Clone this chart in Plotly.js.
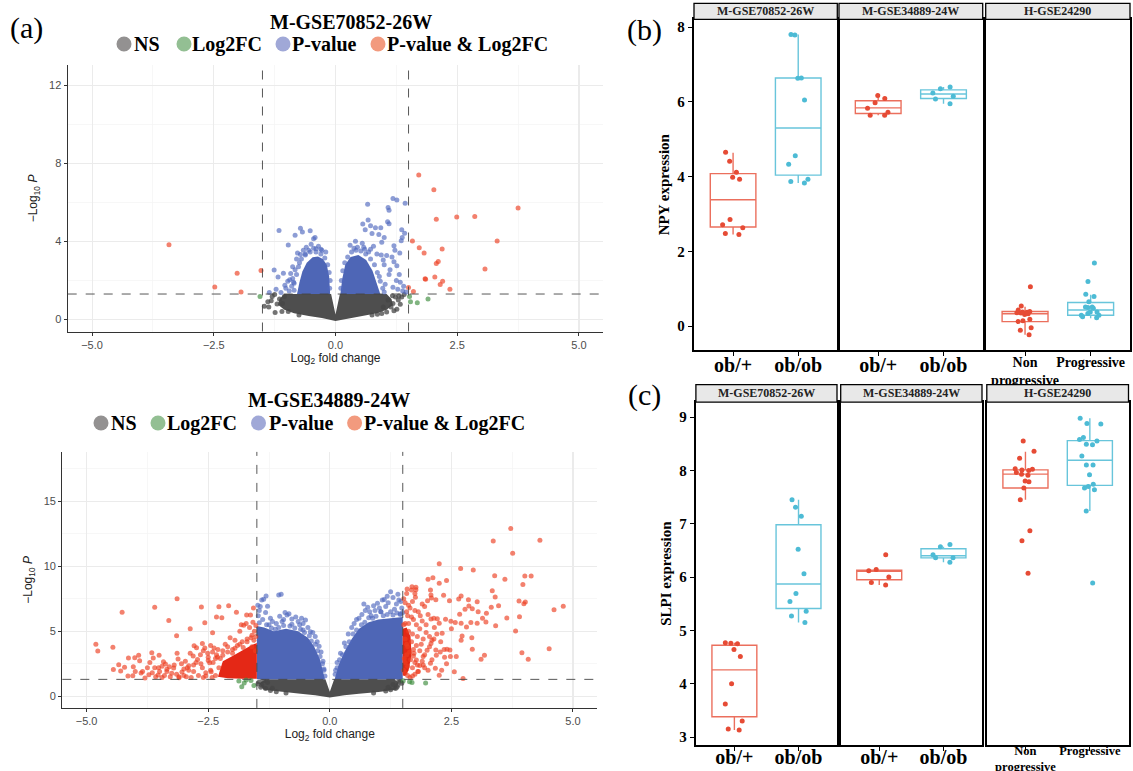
<!DOCTYPE html>
<html><head><meta charset="utf-8">
<script src="https://cdn.plot.ly/plotly-3.0.1.min.js"></script>
<style>html,body{margin:0;padding:0;background:#fff}#chart{width:1133px;height:771px}</style>
</head><body><div id="chart"></div>
<script>
// ================= DATA =================
// ---- (a) top volcano: M-GSE70852-26W ----
const a1_nsCoreX = [-1.05,-0.09,0.0,0.09,1.05,1.15,1.18,1.05,0.85,0.55,0.28,0.0,-0.28,-0.55,-0.85,-1.05,-1.18,-1.15];
const a1_nsCoreY = [1.30,1.30,0.25,1.30,1.30,1.05,0.75,0.50,0.32,0.17,0.07,-0.08,0.07,0.17,0.32,0.50,0.75,1.05];
const a1_nsX = [-1.46,-1.39,-1.25,-1.20,-1.09,-1.24,-1.10,-1.05,-1.30,-0.97,-1.37,-1.15,-1.32,1.17,1.29,1.33,1.26,1.05,1.36,1.23,1.14,0.95,1.41,1.08,1.18,0.86,0.98,1.30,1.20,-0.75,0.75];
const a1_nsY = [0.68,0.90,1.28,0.79,0.82,0.35,0.40,1.17,1.17,0.40,0.64,1.05,0.95,1.21,0.99,0.78,0.52,0.38,1.15,1.15,0.64,0.30,1.28,0.99,0.81,0.26,0.64,1.20,0.45,0.22,0.22];
const a1_fcX = [-1.55,1.52,1.54,1.68,1.90];
const a1_fcY = [1.18,1.17,0.90,0.85,1.04];
const a1_pCoreLX = [-0.11,-0.13,-0.18,-0.26,-0.36,-0.47,-0.59,-0.68,-0.74,-0.79];
const a1_pCoreLY = [1.30,2.20,2.80,3.10,3.22,3.18,2.90,2.45,1.90,1.30];
const a1_pCoreRX = [0.10,0.14,0.20,0.31,0.47,0.63,0.76,0.85,0.92];
const a1_pCoreRY = [1.30,2.10,2.80,3.20,3.30,3.05,2.50,1.85,1.30];
const a1_pX = [-1.16,-0.97,-0.83,-0.72,-0.68,-0.52,-0.45,-0.42,-0.40,-1.26,-1.07,-1.18,-0.94,-0.85,-1.36,-1.12,-0.72,-0.62,-0.55,-0.80,-0.88,-0.92,-0.98,-1.02,-0.95,-0.88,-0.30,-0.20,-0.35,-0.50,-0.60,-1.04,-1.22,-0.78,
  1.18,1.26,1.43,0.66,1.08,1.10,0.67,1.07,1.10,0.56,0.72,0.82,0.61,0.93,1.36,1.42,0.75,0.89,1.37,1.35,0.41,0.55,0.60,0.72,0.85,0.94,1.05,1.20,1.22,1.32,1.16,1.20,1.31,1.10,1.33,1.40,0.30,0.45,1.00,1.12,1.25,1.38,1.28,1.45,1.18,0.98,0.78,0.95,1.00,1.26,
  -0.85,-0.86,-0.80,-0.76,-0.70,-0.62,-0.52,-0.40,-0.30,-0.22,-0.16,-0.13,-0.11,-0.12,-0.66,-0.45,-0.28,-0.90,-0.83,-0.74,
  0.11,0.12,0.15,0.19,0.25,0.33,0.42,0.52,0.62,0.72,0.80,0.86,0.92,0.97,1.00,0.58,0.38,0.68,0.90,1.02];
const a1_pY = [4.56,3.81,4.32,4.67,4.48,4.54,4.13,4.20,3.62,2.53,2.36,2.18,2.03,1.85,1.38,1.38,3.33,3.30,3.55,3.10,2.70,2.35,1.95,1.60,1.45,2.10,3.60,3.45,3.75,3.85,3.70,1.75,1.55,3.40,
  6.20,6.12,5.95,5.90,5.74,5.60,5.10,5.00,4.90,4.89,4.80,4.70,4.60,4.70,4.60,4.42,4.40,4.35,4.20,4.03,4.00,3.90,3.60,3.60,3.35,3.30,3.28,3.78,3.55,3.40,3.20,2.95,2.30,2.30,1.90,1.70,3.80,3.70,2.80,2.55,2.00,1.45,1.55,1.40,1.65,3.05,3.75,3.95,4.20,2.75,
  1.50,1.90,2.30,2.70,3.10,3.35,3.45,3.45,3.35,3.15,2.80,2.40,2.00,1.60,3.55,3.65,3.55,1.70,2.55,2.90,
  1.60,2.00,2.50,2.90,3.20,3.45,3.55,3.50,3.35,3.10,2.80,2.40,1.95,1.60,1.40,3.70,3.65,3.45,2.20,1.80];
const a1_bothX = [-3.42,-2.48,-2.02,-1.94,-1.53,1.71,2.02,2.07,2.49,2.86,3.75,3.32,3.07,1.58,1.72,1.82,2.19,2.11,2.07,1.84,1.85,2.04,2.20,2.15,2.35,1.50,1.60];
const a1_bothY = [3.83,1.66,2.37,1.40,2.51,7.40,6.65,5.14,5.25,5.28,5.71,4.02,2.58,4.02,3.67,3.40,3.61,2.97,2.87,2.08,2.06,2.17,1.96,1.79,1.55,1.64,1.43];

// ---- (a) bottom volcano: M-GSE34889-24W ----
const a2_nsCoreX = [-1.32,-0.09,0.0,0.09,1.32,1.42,1.36,1.0,0.6,0.3,0.0,-0.3,-0.6,-1.0,-1.36,-1.45];
const a2_nsCoreY = [1.30,1.30,0.35,1.30,1.30,1.05,0.50,0.33,0.20,0.08,-0.10,0.08,0.20,0.33,0.50,1.00];
const a2_nsX = [-1.45,-1.40,-1.32,-1.22,-1.48,-1.36,-1.10,-1.42,-1.28,1.45,1.40,1.48,1.35,1.25,1.42,1.15,1.30,1.38,-0.90,0.90,-1.18,1.20];
const a2_nsY = [1.10,0.85,0.60,0.45,0.95,1.20,0.35,0.70,1.05,1.15,0.85,1.00,0.60,0.50,1.25,0.40,0.90,0.70,0.25,0.25,0.62,0.70];
const a2_fcX = [-1.87,-1.81,-1.72,-1.76,-1.56,-1.62,1.51,1.64,1.69,1.97];
const a2_fcY = [1.18,0.74,1.25,1.02,0.82,1.22,1.20,1.12,1.05,1.02];
const a2_pCoreLX = [-0.10,-0.20,-0.32,-0.45,-0.65,-0.90,-1.15,-1.35,-1.50,-1.50];
const a2_pCoreLY = [1.30,2.80,3.80,4.50,5.00,5.20,5.00,5.30,5.40,1.30];
const a2_pCoreRX = [0.10,0.18,0.30,0.45,0.60,0.80,1.00,1.20,1.40,1.50,1.50];
const a2_pCoreRY = [1.30,2.40,3.40,4.40,5.20,5.70,5.90,6.00,6.10,6.10,1.30];
const a2_pX = [-1.36,-1.31,-1.40,-1.05,-1.00,-1.43,-1.28,-0.88,-0.84,-0.50,-0.58,-0.95,-1.10,-1.22,-0.70,-0.40,-0.30,-0.22,-1.47,-1.45,-1.32,-1.18,-0.78,-0.65,-0.45,-0.35,-0.26,-0.18,-0.14,-0.12,-1.38,-1.03,-0.92,-0.62,-1.25,-0.55,-1.48,-0.98,
  1.25,1.08,1.12,1.20,1.42,1.37,0.90,0.70,0.73,0.93,0.66,0.55,0.45,0.38,0.30,0.22,0.15,0.12,1.30,1.46,1.48,1.33,1.15,1.02,0.82,0.60,0.50,1.45,1.25,1.05,0.85,0.78,0.98,1.40,1.18,
  -1.45,-1.30,-1.20,-1.05,-0.95,-0.82,-0.72,-0.60,-0.52,-0.42,-0.38,-0.30,-0.25,-0.20,-0.15,-0.12,-0.10,-1.12,-0.78,-0.55,
  0.11,0.15,0.20,0.26,0.33,0.40,0.48,0.55,0.65,0.72,0.88,0.95,1.10,1.18,1.30,1.38,1.45,1.50,0.80,1.05];
const a2_pY = [7.46,7.72,7.40,7.80,7.85,6.90,6.92,6.25,6.35,5.87,6.00,5.90,5.60,6.00,6.10,4.97,4.60,3.85,6.20,6.60,6.45,5.75,5.95,5.75,5.30,4.90,4.20,3.40,2.70,2.10,5.90,6.15,6.45,5.50,5.50,5.60,7.00,5.75,
  8.05,7.40,7.45,7.20,7.40,7.10,6.97,7.10,6.60,6.60,6.30,5.90,5.30,4.80,4.10,3.30,2.60,2.00,7.60,7.30,6.80,6.70,6.90,6.80,6.50,6.00,5.60,6.30,6.50,6.50,6.20,6.85,7.15,7.85,7.70,
  5.65,5.50,5.25,5.30,5.45,5.40,5.25,5.15,4.90,4.65,4.25,4.00,3.50,3.05,2.50,2.00,1.55,5.15,5.55,5.10,
  1.70,2.20,2.80,3.20,3.80,4.20,4.80,5.10,5.50,5.70,6.00,6.15,6.20,6.30,6.25,6.40,6.35,6.45,6.05,6.50];
const a2_bothCoreLX = [-1.50,-1.50,-1.62,-1.80,-2.00,-2.20,-2.30,-2.10,-1.80];
const a2_bothCoreLY = [1.35,4.10,3.90,3.50,3.10,2.70,1.50,1.38,1.35];
const a2_bothCoreRX = [1.50,1.50,1.58,1.66,1.68,1.62,1.55];
const a2_bothCoreRY = [1.60,5.20,5.30,4.60,3.20,2.00,1.55];
const a2_bothX = [-3.14,-4.27,-3.60,-3.31,-3.15,-2.87,-2.64,-2.57,-2.41,-2.28,-2.08,-2.33,-2.22,-1.92,-1.82,-1.77,-1.71,-1.63,-1.57,-4.81,-4.77,-4.46,-4.34,-4.22,-4.14,-4.04,-4.01,-3.93,-3.91,-3.88,-3.72,-3.66,-3.63,-3.60,-3.53,-3.51,-3.52,-3.42,-3.38,-3.35,-3.30,-3.25,-3.21,-3.14,-3.12,-3.04,-2.97,-2.93,-2.87,-2.81,-2.79,-2.74,-2.72,-2.66,-2.62,-2.57,-2.51,-2.47,-2.44,-2.41,-2.38,-2.31,
  -1.55,-1.60,-1.52,-1.70,-1.65,-1.80,-1.90,-2.00,-2.10,-2.20,-2.35,-2.50,-2.65,-2.80,-2.90,-3.00,-3.10,-3.45,-3.80,-4.05,-4.30,-4.45,-3.70,-3.45,-2.85,-2.55,-2.05,-1.85,-1.95,-2.15,-2.30,-2.45,-2.60,-1.72,-1.58,-1.52,
  -2.35,-2.45,-2.55,-2.62,-2.70,-2.75,-2.80,-2.90,-2.95,-3.00,-3.05,-3.15,-3.20,-3.28,-3.35,-3.40,-3.50,-3.58,-3.65,-2.40,-2.50,-2.33,-2.25,-2.20,-2.10,-2.00,-1.95,-1.85,-1.78,-1.70,-1.62,-1.56,-1.60,-1.53,-2.28,-2.60,-2.42,-3.10,-3.85,-4.15,-4.00,-3.75,
  3.72,3.36,4.32,3.76,2.25,2.69,2.95,2.02,2.12,2.40,2.25,3.39,3.60,4.01,4.14,3.97,1.59,1.69,1.77,1.68,1.77,2.07,3.34,2.08,2.09,2.34,1.76,3.40,2.70,2.65,2.85,3.03,2.46,2.18,2.01,3.89,4.02,3.99,4.61,4.80,3.64,3.90,3.41,3.82,4.51,3.95,4.08,3.11,3.18,2.93,2.70,2.72,2.92,2.56,2.74,2.60,2.48,2.41,2.47,
  2.86,2.78,2.67,2.93,3.05,3.14,3.22,3.32,3.47,3.21,3.03,2.90,2.81,2.70,2.58,2.49,2.38,2.21,2.14,2.08,2.25,2.50,2.31,2.14,2.08,2.18,2.27,2.19,2.36,2.07,2.17,2.25,1.81,1.85,1.92,1.78,1.73,1.92,2.00,
  1.52,1.55,1.58,1.60,1.55,1.62,1.55,1.60,1.65,1.70,1.52,1.68,1.72,1.66,1.70,1.75,1.80,1.85,1.90,1.82,1.95,1.98,1.88,1.95,1.60,1.65,2.02,2.10,2.05,2.15,1.78,1.90,1.58,1.75,
  1.55,1.60,1.53,1.64,1.58,1.70,1.52,1.62,1.72,1.58,1.68,1.75,1.78,1.72,1.85,1.80,1.90,1.82,1.70,1.92,1.86,1.62,1.55,1.75,1.98,2.02,1.95,2.05,2.10,2.20,2.28,2.35,2.40,2.30];
const a2_bothY = [7.51,6.46,6.85,5.82,4.66,5.20,6.87,5.66,4.89,6.89,6.97,6.10,6.05,6.46,5.51,5.46,6.26,6.26,6.79,4.00,3.49,3.77,2.43,2.23,2.95,2.28,2.97,3.15,2.74,1.79,1.66,3.35,2.95,2.20,1.64,3.15,2.20,2.66,2.48,2.08,2.28,1.77,2.18,3.31,2.87,1.87,2.69,2.20,3.31,3.10,3.89,3.74,2.82,3.20,4.05,3.72,3.31,2.58,1.89,3.41,3.72,3.02,
  5.00,4.70,4.60,4.40,5.30,4.20,3.90,3.60,3.40,3.15,2.90,2.75,2.50,2.40,2.00,1.60,1.50,1.45,1.40,1.58,1.95,2.05,2.60,2.30,1.45,1.55,4.50,5.00,4.30,4.00,3.60,3.90,3.50,5.60,5.70,5.45,
  1.60,2.00,1.80,2.20,1.60,2.60,1.90,2.35,1.50,2.10,2.50,1.70,2.40,1.50,1.90,1.60,1.90,1.50,1.80,2.60,3.00,3.20,2.90,3.50,3.80,3.30,3.70,4.00,3.75,4.20,4.50,4.30,3.80,3.50,2.20,1.45,1.45,1.42,1.90,1.55,1.90,2.20,
  12.90,11.95,12.00,11.00,10.20,9.82,9.72,9.01,9.11,8.90,8.70,9.28,9.00,9.26,9.26,8.59,8.25,8.43,8.38,8.17,8.20,8.17,8.12,7.79,7.56,7.77,7.61,7.64,7.71,7.48,7.43,7.28,7.35,7.43,7.35,7.33,7.25,7.12,6.66,6.92,6.02,6.12,5.43,5.02,3.66,3.35,2.84,2.84,3.15,3.61,4.30,4.63,4.51,1.89,1.36,3.05,3.05,3.61,3.56,
  6.95,6.69,6.31,6.74,6.51,6.00,6.38,6.84,6.97,5.72,5.61,5.67,5.33,5.61,5.67,5.77,5.92,5.97,6.00,5.95,5.61,5.20,4.84,4.41,4.05,3.56,3.41,3.15,3.00,2.54,2.15,1.61,1.90,2.36,2.41,2.79,3.31,3.05,3.54,
  2.00,2.60,3.20,3.80,4.40,5.00,5.60,6.20,6.80,7.30,7.50,4.20,3.60,2.80,2.20,1.70,4.60,5.20,5.80,6.50,6.90,4.90,4.00,3.20,1.60,1.45,2.00,2.80,4.60,5.30,5.50,7.10,7.90,7.90,
  1.80,2.30,2.90,3.40,4.00,4.80,5.50,5.60,5.90,6.50,6.10,2.60,3.90,3.10,3.50,2.40,2.70,1.90,1.55,4.40,6.20,7.00,7.20,6.60,5.50,6.30,2.20,3.80,4.30,4.80,4.20,3.60,2.50,2.00];

const legendLabels = ['NS','Log2FC','P-value','P-value &amp; Log2FC'];
const fcCut = 1.5, pCut = 1.301;

// ---- (b) NPY expression ----
const mouseGroups = ['ob/+','ob/ob'];
const humanGroups = ['Non<br>progressive','Progressive'];
const stripTitles = ['M-GSE70852-26W','M-GSE34889-24W','H-GSE24290'];
const npy_70852_obp  = [3.98,4.41,4.65,4.12,3.93,2.85,2.63,2.71,2.45,2.48];
const npy_70852_obob = [7.80,7.79,6.64,6.63,6.05,4.56,4.33,3.93,3.83,3.87];
const npy_34889_obp  = [6.17,6.09,5.98,5.83,5.72,5.64,5.64];
const npy_34889_obob = [6.35,6.40,6.15,6.24,6.08,5.95];
const npy_24290_np   = [1.05,0.54,0.39,0.43,0.375,0.37,0.33,0.31,0.12,0.14,0.18,-0.045,-0.11,-0.23,0.35,0.36];
const npy_24290_pr   = [1.69,1.19,0.85,0.79,0.65,0.51,0.48,0.51,0.50,0.38,0.29,0.29,0.22,0.34,0.25,0.38];
// box stats: [q1, median, q3, lower whisker, upper whisker]
const npyBox_70852 = [[2.65,3.38,4.08,2.45,4.64],[4.04,5.30,6.64,3.83,7.80]];
const npyBox_34889 = [[5.69,5.84,6.03,5.64,6.17],[6.09,6.21,6.32,5.95,6.40]];
const npyBox_24290 = [[0.12,0.33,0.39,-0.23,0.52],[0.29,0.43,0.63,0.21,0.84]];

// ---- (c) SLPI expression ----
const slpi_70852_obp  = [4.77,4.76,4.75,4.64,4.51,4.00,3.62,3.30,3.15,3.13];
const slpi_70852_obob = [7.45,7.31,7.14,6.52,6.06,5.69,5.54,5.36,5.27,5.15];
const slpi_34889_obp  = [6.42,6.14,6.12,6.00,5.90,5.85];
const slpi_34889_obob = [6.61,6.57,6.42,6.36,6.36,6.28];
const slpi_24290_np   = [8.55,8.36,8.23,8.01,8.03,8.02,8.00,7.96,7.93,7.91,7.80,7.79,7.67,7.45,6.87,6.68,6.07];
const slpi_24290_pr   = [8.98,8.87,8.88,8.62,8.58,8.55,8.49,8.48,8.27,8.10,8.10,7.92,7.74,7.70,7.67,7.64,7.24,5.89];
const slpiBox_70852 = [[3.38,4.26,4.72,3.13,4.77],[5.41,5.87,6.98,5.15,7.45]];
const slpiBox_34889 = [[5.95,6.11,6.13,5.85,6.14],[6.36,6.40,6.53,6.28,6.57]];
const slpiBox_24290 = [[7.67,7.93,8.01,7.45,8.35],[7.72,8.19,8.56,7.24,8.98]];

// ================= STYLE / LAYOUT HELPERS =================
const W = 1133, H = 771;
const fx = p => p / W, fy = p => 1 - p / H;
const SERIF = 'Liberation Serif, Times New Roman, serif';
const SANS = 'Liberation Sans, Arial, sans-serif';
const C_NS = 'rgba(70,70,70,0.75)', C_FC = 'rgba(60,140,60,0.65)', C_P = 'rgba(80,105,190,0.65)', C_B = 'rgba(236,62,32,0.65)';
const F_NS = 'rgb(78,78,78)', F_P = 'rgb(78,102,182)', F_B = 'rgb(228,40,22)';
const LEG_COL = ['#939191', '#93bf93', '#a0a8d7', '#f29a7e'];
const RED = '#E64B35', BLUE = '#4DBBD5';
const RED_L = 'rgba(230,75,53,0.8)', BLUE_L = 'rgba(77,187,213,0.85)';

const traces = [];
function core(x, y, col, xa, ya) {
  traces.push({type:'scatter', mode:'lines', x:x, y:y, xaxis:xa, yaxis:ya, fill:'toself', fillcolor:col,
    line:{width:0, color:col}, hoverinfo:'skip', showlegend:false});
}
function pts(x, y, col, xa, ya) {
  traces.push({type:'scatter', mode:'markers', x:x, y:y, xaxis:xa, yaxis:ya,
    marker:{color:col, size:5, line:{width:0}}, hoverinfo:'skip', showlegend:false});
}
// volcano 1
core(a1_nsCoreX, a1_nsCoreY, F_NS, 'x', 'y');
pts(a1_nsX, a1_nsY, C_NS, 'x', 'y');
core(a1_pCoreLX, a1_pCoreLY, F_P, 'x', 'y');
core(a1_pCoreRX, a1_pCoreRY, F_P, 'x', 'y');
pts(a1_pX, a1_pY, C_P, 'x', 'y');
pts(a1_fcX, a1_fcY, C_FC, 'x', 'y');
pts(a1_bothX, a1_bothY, C_B, 'x', 'y');
// volcano 2
core(a2_nsCoreX, a2_nsCoreY, F_NS, 'x2', 'y2');
pts(a2_nsX, a2_nsY, C_NS, 'x2', 'y2');
core(a2_pCoreLX, a2_pCoreLY, F_P, 'x2', 'y2');
core(a2_pCoreRX, a2_pCoreRY, F_P, 'x2', 'y2');
pts(a2_pX, a2_pY, C_P, 'x2', 'y2');
core(a2_bothCoreLX, a2_bothCoreLY, F_B, 'x2', 'y2');
core(a2_bothCoreRX, a2_bothCoreRY, F_B, 'x2', 'y2');
pts(a2_fcX, a2_fcY, C_FC, 'x2', 'y2');
pts(a2_bothX, a2_bothY, C_B, 'x2', 'y2');

// boxes
function boxPanel(xa, ya, cats, stats, vals) {
  const lc = [RED_L, BLUE_L], pc = [RED, BLUE];
  for (let i = 0; i < 2; i++) {
    const s = stats[i];
    traces.push({type:'box', xaxis:xa, yaxis:ya, x:[cats[i]], q1:[s[0]], median:[s[1]], q3:[s[2]],
      lowerfence:[s[3]], upperfence:[s[4]], width:0.7, whiskerwidth:0, boxpoints:false,
      fillcolor:'rgba(255,255,255,0)', line:{color:lc[i], width:1.4}, hoverinfo:'skip', showlegend:false});
    traces.push({type:'box', xaxis:xa, yaxis:ya, x:vals[i].map(() => cats[i]), y:vals[i], width:0.7,
      boxpoints:'all', jitter:0.55, pointpos:0, whiskerwidth:0,
      fillcolor:'rgba(0,0,0,0)', line:{color:'rgba(0,0,0,0)', width:0},
      marker:{color:pc[i], size:5}, hoverinfo:'skip', showlegend:false});
  }
}
boxPanel('x3','y3', mouseGroups, npyBox_70852, [npy_70852_obp, npy_70852_obob]);
boxPanel('x4','y4', mouseGroups, npyBox_34889, [npy_34889_obp, npy_34889_obob]);
boxPanel('x5','y5', humanGroups, npyBox_24290, [npy_24290_np, npy_24290_pr]);
boxPanel('x6','y6', mouseGroups, slpiBox_70852, [slpi_70852_obp, slpi_70852_obob]);
boxPanel('x7','y7', mouseGroups, slpiBox_34889, [slpi_34889_obp, slpi_34889_obob]);
boxPanel('x8','y8', humanGroups, slpiBox_24290, [slpi_24290_np, slpi_24290_pr]);

// ---- axes ----
function volX(dom, anchor) {
  return {domain:dom, anchor:anchor, range:[-5.5,5.5], tick0:0, dtick:2.5, tickformat:'.1f',
    showline:true, linecolor:'#333', linewidth:1.2, ticks:'outside', ticklen:3, tickcolor:'#333',
    tickfont:{family:SANS, size:11, color:'#4d4d4d'}, showgrid:true, gridcolor:'#ebebeb', gridwidth:1.1, zeroline:false,
    minor:{tick0:0, dtick:1.25, showgrid:true, gridcolor:'#f3f3f3', gridwidth:0.7},
    title:{text:'Log<sub>2</sub> fold change', font:{family:SANS, size:12, color:'#222'}, standoff:3}, fixedrange:true};
}
function volY(dom, anchor, range, dt) {
  return {domain:dom, anchor:anchor, range:range, tick0:0, dtick:dt,
    showline:true, linecolor:'#333', linewidth:1.2, ticks:'outside', ticklen:3, tickcolor:'#333',
    tickfont:{family:SANS, size:11, color:'#4d4d4d'}, showgrid:true, gridcolor:'#ebebeb', gridwidth:1.1, zeroline:false,
    minor:{tick0:0, dtick:dt/2, showgrid:true, gridcolor:'#f3f3f3', gridwidth:0.7},
    title:{text:'\u2212Log<sub>10</sub> <i>P</i>', font:{family:SANS, size:12, color:'#222'}, standoff:8}, fixedrange:true};
}
function bxX(dom, anchor, cats, fs, so) {
  return {domain:dom, anchor:anchor, type:'category', categoryorder:'array', categoryarray:cats, range:[-0.6,1.6],
    showline:true, mirror:true, linecolor:'#000', linewidth:2.2, ticks:'outside', ticklen:4, tickcolor:'#000', tickwidth:1,
    tickangle:0, ticklabelstandoff:so,
    tickfont:{family:SERIF, size:fs, weight:'bold', color:'#000'}, showgrid:false, zeroline:false, fixedrange:true};
}
function bxY(dom, anchor, range, tv, first, title) {
  const a = {domain:dom, anchor:anchor, range:range, tickvals:tv,
    showline:true, mirror:true, linecolor:'#000', linewidth:2.2, showgrid:false, zeroline:false, fixedrange:true,
    ticks: first ? 'outside' : '', ticklen:4, tickcolor:'#000', showticklabels:first,
    tickfont:{family:SERIF, size:15, weight:'bold', color:'#000'}};
  if (first) a.title = {text:title, font:{family:SERIF, size:15, weight:'bold', color:'#000'}, standoff:4};
  return a;
}
const bPanels = [[694,837.3],[839,982.7],[985.7,1130]];
const cPanels = [[695.9,837],[840.7,982],[986.8,1128.5]];
const bY = [fy(350), fy(19.3)], cY = [fy(745), fy(402.2)];

const layout = {
  width:W, height:H, margin:{l:0,r:0,t:0,b:0}, paper_bgcolor:'#fff', plot_bgcolor:'#fff',
  showlegend:false, boxmode:'overlay', boxgap:0.3, boxgroupgap:0,
  xaxis: volX([fx(67.7), fx(603.3)], 'y'),
  yaxis: volY([fy(331.5), fy(65.4)], 'x', [-0.62, 13.02], 4),
  xaxis2: volX([fx(62.3), fx(597.3)], 'y2'),
  yaxis2: volY([fy(707.9), fy(451.9)], 'x2', [-0.895, 18.8], 5),
  xaxis3: bxX([fx(bPanels[0][0]), fx(bPanels[0][1])], 'y3', mouseGroups, 20, -8),
  xaxis4: bxX([fx(bPanels[1][0]), fx(bPanels[1][1])], 'y4', mouseGroups, 20, -8),
  xaxis5: bxX([fx(bPanels[2][0]), fx(bPanels[2][1])], 'y5', humanGroups, 14, -6),
  yaxis3: bxY(bY, 'x3', [-0.64, 8.21], [0,2,4,6,8], true, 'NPY expression'),
  yaxis4: bxY(bY, 'x4', [-0.64, 8.21], [0,2,4,6,8], false),
  yaxis5: bxY(bY, 'x5', [-0.64, 8.21], [0,2,4,6,8], false),
  xaxis6: bxX([fx(cPanels[0][0]), fx(cPanels[0][1])], 'y6', mouseGroups, 20, -11),
  xaxis7: bxX([fx(cPanels[1][0]), fx(cPanels[1][1])], 'y7', mouseGroups, 20, -11),
  xaxis8: bxX([fx(cPanels[2][0]), fx(cPanels[2][1])], 'y8', humanGroups, 12.5, -11),
  yaxis6: bxY(cY, 'x6', [2.85, 9.28], [3,4,5,6,7,8,9], true, 'SLPI expression'),
  yaxis7: bxY(cY, 'x7', [2.85, 9.28], [3,4,5,6,7,8,9], false),
  yaxis8: bxY(cY, 'x8', [2.85, 9.28], [3,4,5,6,7,8,9], false),
  shapes: [], annotations: []
};

// threshold lines
[['x','y'],['x2','y2']].forEach(([xa, ya]) => {
  const dl = {dash:'dash', color:'#444', width:0.9};
  layout.shapes.push({type:'line', xref:xa, yref:ya+' domain', x0:-fcCut, x1:-fcCut, y0:0, y1:1, line:dl});
  layout.shapes.push({type:'line', xref:xa, yref:ya+' domain', x0:fcCut, x1:fcCut, y0:0, y1:1, line:dl});
  layout.shapes.push({type:'line', xref:xa+' domain', yref:ya, x0:0, x1:1, y0:pCut, y1:pCut, line:dl});
});

// volcano titles & legends
function volHeader(title, tx, ty, ly, circX, textX) {
  layout.annotations.push({xref:'paper', yref:'paper', x:fx(tx), y:fy(ty), text:'<b>'+title+'</b>', showarrow:false,
    xanchor:'center', yanchor:'middle', font:{family:SERIF, size:20, color:'#000'}});
  for (let i = 0; i < 4; i++) {
    layout.shapes.push({type:'circle', xref:'paper', yref:'paper', xsizemode:'pixel', ysizemode:'pixel',
      xanchor:fx(circX[i]), yanchor:fy(ly), x0:-7.5, x1:7.5, y0:-7.5, y1:7.5, fillcolor:LEG_COL[i], line:{width:0}});
    layout.annotations.push({xref:'paper', yref:'paper', x:fx(textX[i]), y:fy(ly), text:'<b>'+legendLabels[i]+'</b>',
      showarrow:false, xanchor:'left', yanchor:'middle', borderpad:0, font:{family:SERIF, size:20, color:'#000'}});
  }
}
volHeader('M-GSE70852-26W', 351, 21.7, 44, [124,184,283,378], [133,191,291,386]);
volHeader('M-GSE34889-24W', 328.5, 400, 423, [101,158,258.5,354.6], [110,166,268,363]);

// strips
function strips(panels, y0, y1) {
  panels.forEach((p, i) => {
    layout.shapes.push({type:'rect', xref:'paper', yref:'paper', x0:fx(p[0]), x1:fx(p[1]), y0:fy(y1), y1:fy(y0),
      fillcolor:'#e8e8e8', line:{color:'#000', width:1.3}});
    layout.annotations.push({xref:'paper', yref:'paper', x:fx((p[0]+p[1])/2), y:fy((y0+y1)/2), text:'<b>'+stripTitles[i]+'</b>',
      showarrow:false, xanchor:'center', yanchor:'middle', font:{family:SERIF, size:12, color:'#222'}});
  });
}
strips(bPanels, 3.3, 19.3);
strips(cPanels, 384.7, 402.2);

// panel letters
[['(a)', 26, 28], ['(b)', 644, 30], ['(c)', 644, 395]].forEach(([t, x, y]) => {
  layout.annotations.push({xref:'paper', yref:'paper', x:fx(x), y:fy(y), text:t, showarrow:false,
    xanchor:'center', yanchor:'middle', font:{family:SERIF, size:30, color:'#000'}});
});

Plotly.newPlot('chart', traces, layout, {staticPlot:true, displayModeBar:false});
</script></body></html>
